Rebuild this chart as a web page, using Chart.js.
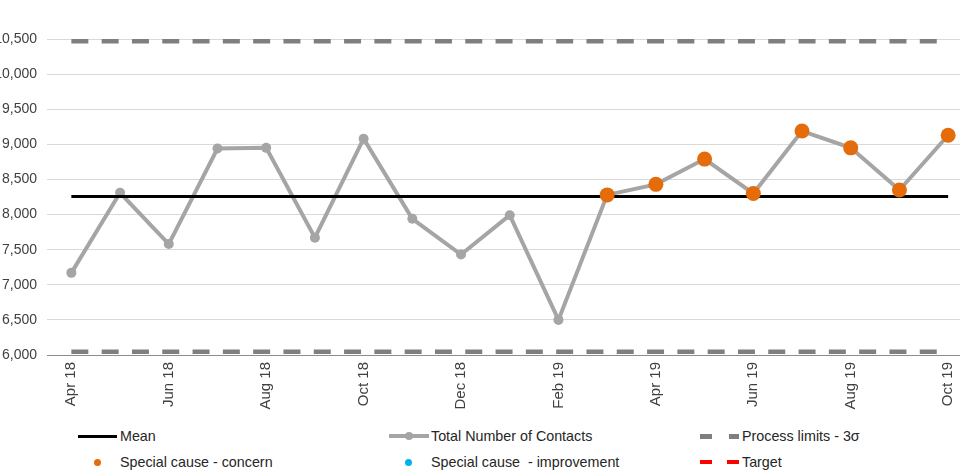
<!DOCTYPE html>
<html>
<head>
<meta charset="utf-8">
<script src="https://cdn.jsdelivr.net/npm/chart.js@4"></script>
<style>
  html, body { margin: 0; padding: 0; background: #fff; }
  body { width: 960px; height: 472px; overflow: hidden; position: relative; font-family: "Liberation Sans", Arial, sans-serif; }
  #wrap { position: absolute; left: -20px; top: 0; width: 1000px; height: 420px; }
  .item { position: absolute; height: 20px; display: flex; align-items: center; font-size: 14.3px; color: #262626; white-space: nowrap; }
  .sw { position: relative; width: 40px; height: 20px; margin-right: 2px; }
  .sw div { position: absolute; }
</style>
</head>
<body>
<div id="wrap"><canvas id="chart"></canvas></div>
<div id="legend"></div>
<script>
const months = ["Apr 18", "May 18", "Jun 18", "Jul 18", "Aug 18", "Sep 18", "Oct 18", "Nov 18", "Dec 18",
  "Jan 19", "Feb 19", "Mar 19", "Apr 19", "May 19", "Jun 19", "Jul 19", "Aug 19", "Sep 19", "Oct 19"];
const contacts = [7170, 8310, 7580, 8940, 8950, 7670, 9080, 7940, 7430,
  7990, 6500, 8280, 8430, 8790, 8300, 9190, 8950, 8350, 9130];
const concern = [null, null, null, null, null, null, null, null, null,
  null, null, 8280, 8430, 8790, 8300, 9190, 8950, 8350, 9130];
const improvement = [];
const target = [];
const meanValue = 8256;
const upperLimit = 10468;
const lowerLimit = 6047;
const yTicks = [6000, 6500, 7000, 7500, 8000, 8500, 9000, 9500, 10000, 10500];

const flat = v => months.map(() => v);
const font = { family: "'Liberation Sans', Arial, sans-serif", size: 14 };

new Chart(document.getElementById("chart"), {
  type: "line",
  data: {
    labels: months,
    datasets: [
      { label: "Special cause - concern", data: concern, showLine: false, pointRadius: 7.5, pointBackgroundColor: "#e46c0a", pointBorderWidth: 0, order: 0 },
      { label: "Special cause  - improvement", data: improvement, showLine: false, pointRadius: 7.5, pointBackgroundColor: "#00b0f0", order: 0 },
      { label: "Mean", data: flat(meanValue), borderColor: "#000", borderWidth: 3, pointRadius: 0, order: 1 },
      { label: "Total Number of Contacts", data: contacts, borderColor: "#a5a5a5", borderWidth: 4, pointRadius: 5, pointBackgroundColor: "#a5a5a5", pointBorderWidth: 0, order: 2 },
      { label: "Process limits - 3σ", data: flat(upperLimit), borderColor: "#7f7f7f", borderWidth: 4.5, borderDash: [17, 13.3], pointRadius: 0, order: 3 },
      { label: "Process limits lower", data: flat(lowerLimit), borderColor: "#7f7f7f", borderWidth: 4.5, borderDash: [17, 13.3], pointRadius: 0, order: 3 },
      { label: "Target", data: target, borderColor: "#ff0000", borderWidth: 4, borderDash: [12, 14], pointRadius: 0, order: 3 }
    ]
  },
  options: {
    responsive: true,
    maintainAspectRatio: false,
    animation: false,
    layout: { padding: { top: 39, right: 0, bottom: 0, left: 0 } },
    plugins: { legend: { display: false }, tooltip: { enabled: false } },
    scales: {
      x: {
        offset: true,
        grid: { display: false, drawTicks: false },
        border: { display: true, color: "#8c8c8c", width: 1 },
        ticks: {
          autoSkip: false, minRotation: 90, maxRotation: 90, padding: 7,
          color: "#404040", font: { ...font, size: 15 },
          callback: (v, i) => i % 2 === 0 ? months[i] : ""
        },
        afterFit: s => { s.height = 65; }
      },
      y: {
        min: yTicks[0], max: yTicks[yTicks.length - 1],
        grid: { color: "#d9d9d9", lineWidth: 1, drawTicks: false },
        border: { display: false },
        afterBuildTicks: s => { s.ticks = yTicks.map(v => ({ value: v })); },
        ticks: { padding: 10, color: "#404040", font, callback: v => v.toLocaleString("en-US") },
        afterFit: s => { s.width = 67; }
      }
    }
  }
});

// legend laid out in three columns like the original spreadsheet chart
const legendItems = [
  { text: "Mean", x: 78, y: 436, sw: [{ l: 0, w: 39, h: 3, c: "#000" }] },
  { text: "Total Number of Contacts", x: 389, y: 436, sw: [{ l: 0, w: 40, h: 4, c: "#a5a5a5" }, { l: 16, w: 8, h: 8, c: "#a5a5a5", r: true }] },
  { text: "Process limits - 3σ", x: 700, y: 436, sw: [{ l: 0, w: 12, h: 5, c: "#7f7f7f" }, { l: 29, w: 10, h: 5, c: "#7f7f7f" }] },
  { text: "Special cause - concern", x: 78, y: 462, sw: [{ l: 16, w: 7, h: 7, c: "#e46c0a", r: true }] },
  { text: "Special cause  - improvement", x: 389, y: 462, sw: [{ l: 16, w: 7, h: 7, c: "#00b0f0", r: true }] },
  { text: "Target", x: 700, y: 462, sw: [{ l: 0, w: 12, h: 4, c: "#ff0000" }, { l: 27, w: 12, h: 4, c: "#ff0000" }] }
];
const legend = document.getElementById("legend");
legendItems.forEach(it => {
  const item = document.createElement("div");
  item.className = "item";
  item.style.left = it.x + "px";
  item.style.top = (it.y - 10) + "px";
  const sw = document.createElement("div");
  sw.className = "sw";
  it.sw.forEach(p => {
    const d = document.createElement("div");
    d.style.left = p.l + "px";
    d.style.top = (10 - p.h / 2) + "px";
    d.style.width = p.w + "px";
    d.style.height = p.h + "px";
    d.style.background = p.c;
    if (p.r) d.style.borderRadius = "50%";
    sw.appendChild(d);
  });
  item.appendChild(sw);
  const t = document.createElement("span");
  t.textContent = it.text.replace(/  /g, " \u00a0");
  item.appendChild(t);
  legend.appendChild(item);
});
</script>
</body>
</html>
